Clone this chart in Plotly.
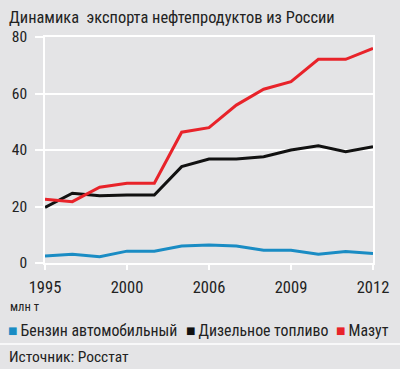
import plotly.graph_objects as go

positions = list(range(13))
tick_positions = [0, 3, 6, 9, 12]
tick_labels = ["1995", "2000", "2006", "2009", "2012"]

benzin = [2.5, 3.1, 2.2, 4.2, 4.2, 6.0, 6.4, 6.0, 4.5, 4.5, 3.1, 4.1, 3.4]
dizel = [19.7, 24.7, 23.8, 24.1, 24.1, 34.1, 36.8, 36.8, 37.6, 40.0, 41.5, 39.4, 41.2]
mazut = [22.6, 21.7, 26.8, 28.2, 28.2, 46.3, 47.9, 55.9, 61.5, 64.2, 72.1, 72.1, 76.0]

names = ["Бензин автомобильный", "Дизельное топливо", "Мазут"]
colors = ["#1a8cc4", "#111111", "#e8232a"]

FONT = "Roboto Condensed, Liberation Sans Narrow, Arial Narrow, Roboto, sans-serif"
BG = "#e4e4e6"
TXT = "#222222"

fig = go.Figure()
for vals, name, col in [(benzin, names[0], colors[0]), (dizel, names[1], colors[1]), (mazut, names[2], colors[2])]:
    fig.add_trace(go.Scatter(x=positions, y=vals, mode="lines", name=name,
                             line=dict(color=col, width=3), cliponaxis=False,
                             hoverinfo="skip"))

L, R, T, B = 45, 27, 37, 106
W, H = 400, 369
pw, ph = W - L - R, H - T - B

def px(x):
    return (x - L) / pw

def py(y):
    return (H - B - y) / ph

fig.update_layout(
    width=W, height=H,
    margin=dict(l=L, r=R, t=T, b=B, autoexpand=False),
    paper_bgcolor=BG, plot_bgcolor=BG,
    showlegend=False,
    font=dict(family=FONT, color=TXT),
    xaxis=dict(range=[0, 12], tickvals=tick_positions, ticktext=tick_labels,
               showgrid=False, zeroline=False, showline=True, mirror=True,
               linecolor="white", linewidth=1.5,
               ticks="outside", ticklen=5, tickcolor="white", tickwidth=1.5,
               ticklabelstandoff=3,
               tickfont=dict(size=16.5, family=FONT, color=TXT)),
    yaxis=dict(range=[0, 80], tickvals=[0, 20, 40, 60, 80],
               showgrid=True, gridcolor="white", gridwidth=1.5, zeroline=False,
               showline=True, mirror=True, linecolor="white", linewidth=1.5,
               ticks="outside", ticklen=8, tickcolor="white", tickwidth=1.5,
               ticklabelstandoff=5,
               tickfont=dict(size=15.5, family=FONT, color=TXT)),
)

ann = [
    dict(text="Динамика\u00a0 экспорта нефтепродуктов из России", x=px(7), y=py(18),
         size=16.4),
    dict(text="млн т", x=px(8), y=py(306), size=12.5),
    dict(text="Источник: Росстат", x=px(7), y=py(357), size=15.5),
]
for a in ann:
    fig.add_annotation(text=a["text"], x=a["x"], y=a["y"], xref="paper", yref="paper",
                       xanchor="left", yanchor="middle", showarrow=False,
                       font=dict(size=a["size"], family=FONT, color=TXT))

legend_x = [6, 184, 334]
for lx, name, col in zip(legend_x, names, colors):
    fig.add_annotation(text=f"<span style='color:{col}'>■</span>\u2009{name}",
                       x=px(lx), y=py(330), xref="paper", yref="paper",
                       xanchor="left", yanchor="middle", showarrow=False,
                       font=dict(size=15.8, family=FONT, color=TXT))

fig.add_shape(type="line", xref="paper", yref="paper", x0=px(0), x1=px(400),
              y0=py(344), y1=py(344), line=dict(color="white", width=1.5))

fig.write_html("out.html", config={"displayModeBar": False},
               post_script="document.body.style.margin='0';document.body.style.overflow='hidden';")
